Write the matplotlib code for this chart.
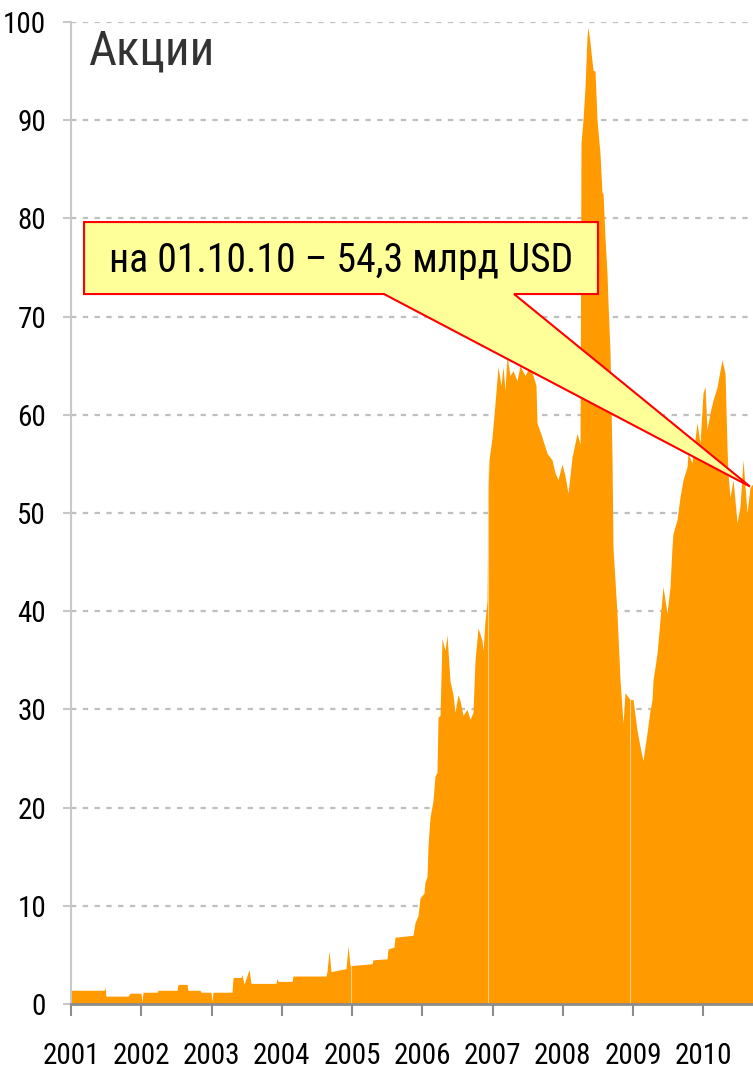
import matplotlib
matplotlib.use('Agg')
import matplotlib.pyplot as plt
from matplotlib.patches import Polygon

plt.rcParams['font.family'] = ['Roboto Condensed', 'DejaVu Sans']

# Data: decimal year vs value (bn USD)
years = [2001.000, 2001.470, 2001.484, 2001.498, 2001.811, 2001.840, 2001.996, 2002.011, 2002.025,
         2002.224, 2002.238, 2002.509, 2002.523, 2002.651, 2002.665, 2002.836, 2002.851, 2002.993,
         2003.007, 2003.021, 2003.292, 2003.306, 2003.420, 2003.434, 2003.463, 2003.534, 2003.562,
         2003.918, 2003.932, 2003.947, 2004.146, 2004.160, 2004.630, 2004.644, 2004.673, 2004.701,
         2004.915, 2004.943, 2004.972, 2005.285, 2005.299, 2005.498, 2005.512, 2005.598, 2005.612,
         2005.868, 2005.897, 2005.940, 2005.968, 2006.025, 2006.039, 2006.068, 2006.082, 2006.110,
         2006.153, 2006.181, 2006.210, 2006.224, 2006.253, 2006.281, 2006.324, 2006.352, 2006.395,
         2006.438, 2006.466, 2006.509, 2006.537, 2006.580, 2006.637, 2006.680, 2006.722, 2006.751,
         2006.794, 2006.851, 2006.865, 2006.893, 2006.922, 2006.936, 2006.950, 2006.993, 2007.036,
         2007.078, 2007.121, 2007.150, 2007.178, 2007.206, 2007.249, 2007.292, 2007.349, 2007.391,
         2007.463, 2007.534, 2007.577, 2007.619, 2007.633, 2007.705, 2007.776, 2007.847, 2007.890,
         2007.932, 2007.989, 2008.032, 2008.075, 2008.132, 2008.203, 2008.246, 2008.260, 2008.288,
         2008.317, 2008.345, 2008.359, 2008.388, 2008.416, 2008.431, 2008.459, 2008.488, 2008.530,
         2008.559, 2008.573, 2008.601, 2008.630, 2008.644, 2008.673, 2008.701, 2008.715, 2008.772,
         2008.815, 2008.858, 2008.886, 2008.957, 2009.000, 2009.057, 2009.100, 2009.142, 2009.199,
         2009.242, 2009.271, 2009.285, 2009.342, 2009.384, 2009.427, 2009.484, 2009.527, 2009.555,
         2009.569, 2009.626, 2009.669, 2009.712, 2009.769, 2009.783, 2009.840, 2009.911, 2009.954,
         2009.996, 2010.025, 2010.053, 2010.096, 2010.139, 2010.196, 2010.238, 2010.267, 2010.310,
         2010.338, 2010.352, 2010.381, 2010.424, 2010.481, 2010.523, 2010.566, 2010.623, 2010.665,
         2010.708]
values = [1.4, 1.4, 1.7, 0.8, 0.8, 1.1, 1.1, 0.2, 1.2,
          1.2, 1.4, 1.4, 2.0, 2.0, 1.4, 1.4, 1.2, 1.2,
          0.2, 1.2, 1.2, 2.7, 2.7, 3.0, 2.0, 3.5, 2.1,
          2.1, 2.6, 2.3, 2.3, 2.85, 2.85, 3.3, 5.4, 3.3,
          3.6, 5.9, 3.9, 4.1, 4.5, 4.6, 5.6, 5.8, 6.8,
          7.0, 8.3, 9.0, 10.8, 11.3, 12.4, 13.0, 16.1, 19.0,
          20.7, 23.2, 23.6, 29.2, 29.4, 37.2, 36.0, 37.6, 32.9,
          31.5, 29.7, 31.5, 30.9, 29.4, 30.0, 29.0, 29.7, 35.0,
          38.3, 37.0, 36.0, 39.0, 41.0, 51.6, 55.4, 57.7, 61.2,
          64.9, 63.0, 64.9, 62.5, 66.0, 64.0, 64.5, 63.5, 65.0,
          64.0, 65.0, 64.0, 63.0, 59.2, 57.7, 56.1, 55.4, 54.1,
          53.4, 55.0, 53.8, 52.0, 55.7, 58.1, 57.0, 87.7, 90.0,
          93.4, 98.5, 99.5, 97.9, 96.0, 95.1, 95.0, 90.0, 86.6,
          82.6, 82.6, 78.1, 74.4, 71.4, 66.3, 55.7, 46.5, 39.8,
          33.0, 28.6, 31.7, 31.0, 31.0, 27.9, 26.2, 24.8, 27.6,
          29.9, 31.0, 33.0, 35.7, 39.1, 42.5, 39.8, 42.5, 46.5,
          47.9, 49.3, 51.6, 53.4, 54.7, 56.1, 55.1, 59.2, 57.1,
          62.2, 62.9, 58.5, 60.2, 61.5, 62.8, 64.5, 65.6, 64.2,
          56.7, 54.0, 51.6, 53.4, 49.0, 50.7, 55.4, 50.0, 52.6,
          53.0]

tick_years = list(range(2001, 2011))
y_ticks = list(range(0, 101, 10))
seam_years = [2004.98, 2006.94, 2008.96]   # faint seams visible inside the area

title = 'Акции'
callout_text = 'на 01.10.10 – 54,3 млрд USD'
callout_x, callout_y = 2010.665, 52.7

fig = plt.figure(figsize=(7.53, 10.69), dpi=100)
ax = fig.add_axes([0.0943, 0.0608, 0.9057, 0.9186])

area = ax.fill_between(years, values, 0, color='#FF9A00', linewidth=0, zorder=2)
seams = ax.vlines(seam_years, 0, 100, color='#FFD08A', linewidth=0.8, zorder=3)
seams.set_clip_path(area.get_paths()[0], area.get_transform())

ax.set_xlim(years[0], years[-1])
ax.set_ylim(0, 100)
ax.set_xticks(tick_years)
ax.set_xticklabels([str(y) for y in tick_years])
ax.set_yticks(y_ticks)

ax.set_axisbelow(True)
ax.yaxis.grid(True, color='#BFBFBF', linewidth=1.6, linestyle=(0, (2.4, 2.9)))
ax.xaxis.grid(False)

for s in ['top', 'right']:
    ax.spines[s].set_visible(False)
ax.spines['left'].set_color('#C8C8C8')
ax.spines['left'].set_linewidth(1.5)
ax.spines['bottom'].set_color('#8C8C8C')
ax.spines['bottom'].set_linewidth(2)
ax.spines['bottom'].set_zorder(4)

ax.tick_params(axis='x', direction='out', length=8.5, width=1.5, color='#8C8C8C',
               pad=19, labelsize=21, labelcolor='black')
ax.tick_params(axis='y', direction='out', length=6, width=1.5, color='#C8C8C8',
               pad=12, labelsize=21, labelcolor='black')

ax.text(0.025, 0.993, title, transform=ax.transAxes, ha='left', va='top',
        fontsize=35, color='#333333')

# Callout box with a pointer to the last value
tip = ax.transAxes.inverted().transform(ax.transData.transform((callout_x, callout_y)))
L, R, T, B = 0.0191, 0.7727, 0.7963, 0.7230
wl, wr = 0.4589, 0.6496
shape = Polygon([(L, T), (R, T), (R, B), (wr, B), tuple(tip), (wl, B), (L, B)],
                closed=True, transform=ax.transAxes, facecolor='#FFFF99',
                edgecolor='#FF0000', linewidth=1.5, zorder=6, clip_on=False)
ax.add_patch(shape)
ax.text((L + R) / 2, (T + B) / 2 - 0.002, callout_text, transform=ax.transAxes,
        ha='center', va='center', fontsize=28.5, color='black', zorder=7)

fig.savefig('out.png', dpi=100)
plt.close(fig)
